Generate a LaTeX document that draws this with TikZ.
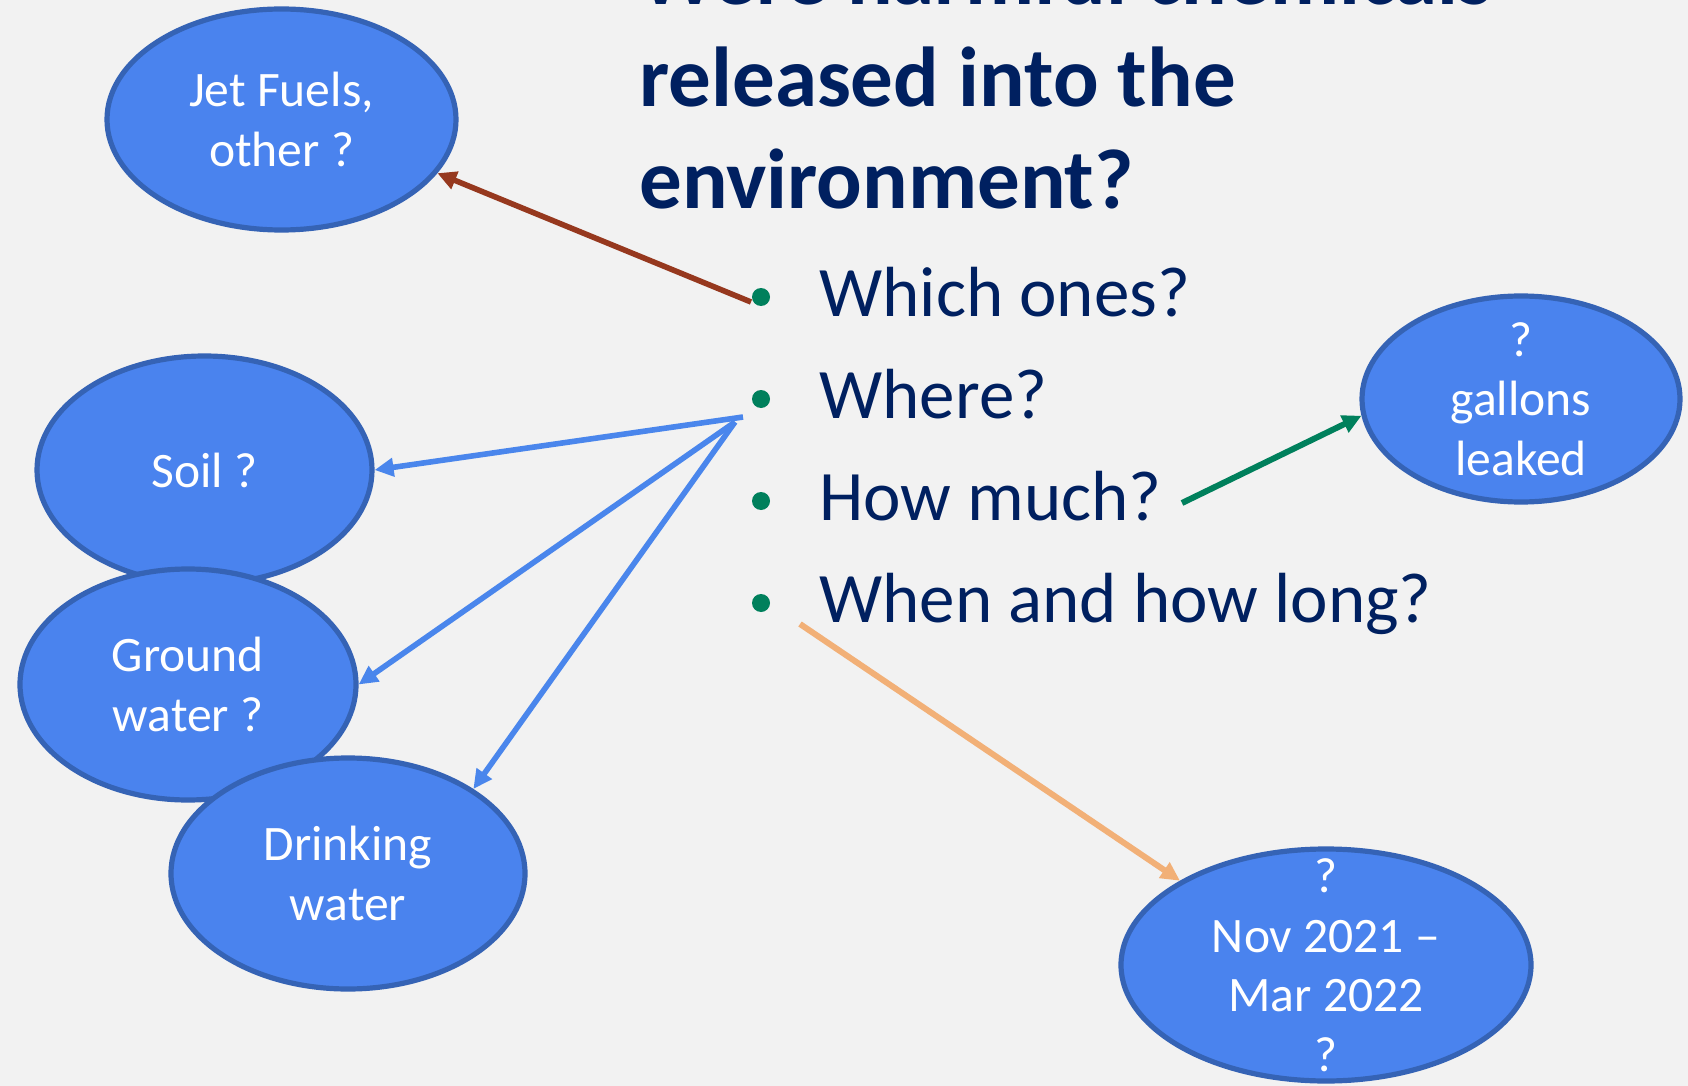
\documentclass[tikz,border=0pt]{standalone}
\usepackage{fontspec}
\setmainfont{Carlito}
\usetikzlibrary{shapes.geometric,arrows.meta}
\definecolor{bg}{HTML}{F2F2F2}
\definecolor{bubfill}{HTML}{4A83EE}
\definecolor{bubline}{HTML}{3563B5}
\definecolor{navy}{HTML}{002060}
\definecolor{bulg}{HTML}{00805C}
\definecolor{brownarr}{HTML}{96381E}
\definecolor{bluearr}{HTML}{4A86EC}
\definecolor{orangearr}{HTML}{F2B077}
\begin{document}
\begin{tikzpicture}[x=0.5pt,y=-0.5pt,
  bub/.style={ellipse, draw=bubline, fill=bubfill, line width=2.6pt, inner sep=-30pt,
    text=white, align=center, font=\fontsize{24.8}{29.75}\selectfont},
  conn/.style={line width=2.8pt, -{Triangle[length=9.5pt,width=9pt]}},
  dot/.style={circle, fill=bulg, inner sep=0pt, minimum size=9pt},
  qtext/.style={anchor=base west, inner sep=0pt, text=navy, font=\fontsize{35.5}{42}\selectfont}]
\fill[bg] (0,0) rectangle (1688,1086);
\useasboundingbox (0,0) rectangle (1688,1086);
\clip (0,0) rectangle (1688,1086);

% title (first line cut off at the top edge, as in the reference)
\node[anchor=base west, inner sep=0pt, align=left, text=navy,
  font=\fontsize{42.5}{51}\selectfont\bfseries] (title) at (639,208)
  {Were harmful chemicals\\released into the\\environment?};

% bubbles
\node[bub, minimum width=174.5pt, minimum height=110.5pt] (jet) at (281.5,119.5) {Jet Fuels,\\other ?};
\node[bub, minimum width=167.5pt, minimum height=114pt] (soil) at (204.5,470) {Soil ?};
\node[bub, minimum width=168pt, minimum height=115.5pt] (ground) at (188,684.5) {Ground\\water ?};
\node[bub, minimum width=177pt, minimum height=115.5pt] (drink) at (348,873.5) {Drinking\\water};
\node[bub, minimum width=159pt, minimum height=103pt] (gal) at (1521,399) {?\\gallons\\leaked};
\node[bub, minimum width=205pt, minimum height=116pt] (nov) at (1326,965) {?\\Nov 2021 --\\Mar 2022\\?};

% bullets
\node[dot] (b1) at (761,297) {};
\node[dot] (b2) at (761,399) {};
\node[dot] (b3) at (761,501) {};
\node[dot] (b4) at (761,603) {};
\node[qtext] (q1) at (819,316) {Which ones?};
\node[qtext] (q2) at (819,418) {Where?};
\node[qtext] (q3) at (819,520) {How much?};
\node[qtext] (q4) at (819,622) {When and how long?};

% connector start points
\coordinate (s1) at (751,302);
\coordinate (s2) at (743,417);
\coordinate (s3) at (735,422);
\coordinate (s4) at (1182,503);
\coordinate (s5) at (800,624);

\draw[conn, brownarr] (s1) -- (jet.-19);
\draw[conn, bluearr] (s2) -- (soil.east);
\draw[conn, bluearr] (s3) -- (ground.east);
\draw[conn, bluearr] (s3) -- (drink.34);
\draw[conn, bulg, line width=3pt] (s4) -- (gal.186);
\draw[conn, orangearr, line width=3pt] (s5) -- (nov.150);
\end{tikzpicture}
\end{document}
